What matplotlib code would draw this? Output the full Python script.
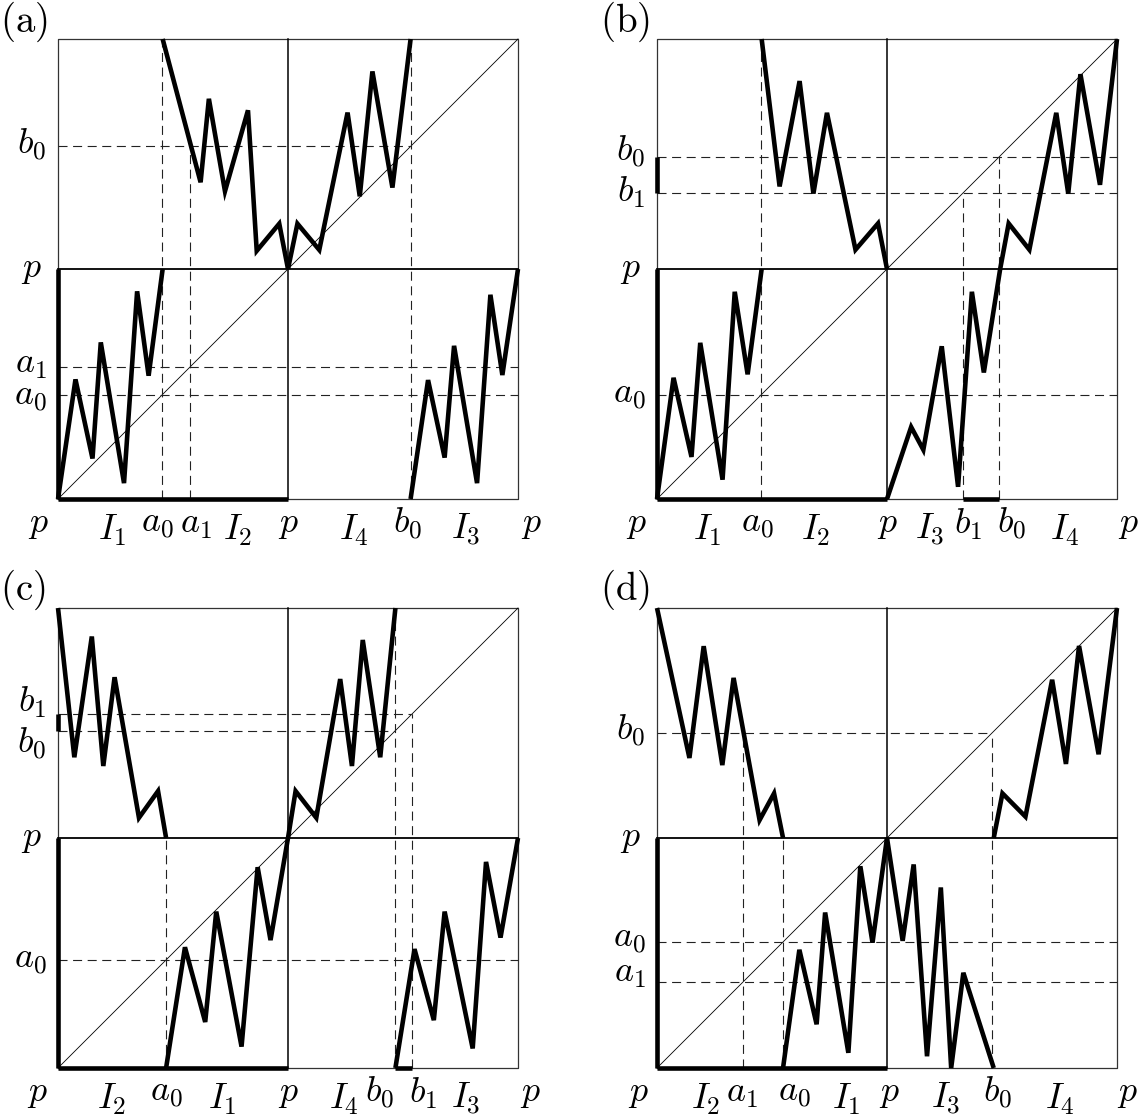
import matplotlib
matplotlib.use("Agg")
import matplotlib.pyplot as plt

plt.rcParams["mathtext.fontset"] = "cm"
plt.rcParams["lines.scale_dashes"] = False

# ---------------- data (unit square halves: p=0, p=1, p=2) ----------------
# panel (a)
A_LL_X = [0, 0.076, 0.150, 0.186, 0.287, 0.344, 0.394, 0.455]
A_LL_Y = [0, 0.52, 0.176, 0.681, 0.069, 0.903, 0.536, 1.0]
A_UL_X = [0.455, 0.62, 0.656, 0.726, 0.826, 0.864, 0.962, 1.0]
A_UL_Y = [2.0, 1.377, 1.74, 1.338, 1.69, 1.079, 1.197, 1.0]
A_UR_X = [1.0, 1.041, 1.136, 1.259, 1.312, 1.367, 1.454, 1.533]
A_UR_Y = [1.0, 1.197, 1.083, 1.68, 1.316, 1.859, 1.354, 2.0]
A_LR_X = [1.533, 1.609, 1.681, 1.722, 1.822, 1.880, 1.932, 2.0]
A_LR_Y = [0, 0.517, 0.18, 0.666, 0.069, 0.888, 0.539, 1.0]
A_A0, A_A1, A_B0 = 0.45, 0.575, 1.533

# panel (b)
B_LL_X = [0, 0.072, 0.15, 0.188, 0.285, 0.338, 0.394, 0.455]
B_LL_Y = [0, 0.527, 0.183, 0.679, 0.084, 0.901, 0.542, 1.0]
B_UL_X = [0.455, 0.533, 0.62, 0.68, 0.739, 0.863, 0.961, 1.0]
B_UL_Y = [2.0, 1.359, 1.817, 1.328, 1.679, 1.084, 1.198, 1.0]
B_R_X = [1.0, 1.105, 1.158, 1.238, 1.309, 1.369, 1.421, 1.492, 1.529, 1.619, 1.736, 1.788, 1.841, 1.926, 2.0]
B_R_Y = [0, 0.313, 0.214, 0.664, 0.053, 0.901, 0.55, 1.0, 1.198, 1.084, 1.679, 1.328, 1.847, 1.366, 2.0]
B_A0, B_B0, B_B1 = 0.452, 1.487, 1.33

# panel (c)
C_UL_X = [0, 0.071, 0.147, 0.197, 0.246, 0.352, 0.435, 0.47]
C_UL_Y = [2.0, 1.351, 1.876, 1.313, 1.699, 1.088, 1.204, 1.0]
C_LL_X = [0.47, 0.552, 0.64, 0.688, 0.798, 0.868, 0.924, 1.0]
C_LL_Y = [0, 0.525, 0.2, 0.68, 0.093, 0.873, 0.556, 1.0]
C_UR_X = [1.0, 1.033, 1.123, 1.227, 1.278, 1.325, 1.401, 1.467]
C_UR_Y = [1.0, 1.204, 1.088, 1.691, 1.313, 1.861, 1.351, 2.0]
C_LR_X = [1.467, 1.55, 1.634, 1.681, 1.803, 1.861, 1.924, 2.0]
C_LR_Y = [0, 0.517, 0.208, 0.68, 0.085, 0.896, 0.567, 1.0]
C_A0, C_B0, C_B1 = 0.47, 1.467, 1.54

# panel (d)
D_UL_X = [0, 0.141, 0.203, 0.284, 0.333, 0.446, 0.509, 0.548]
D_UL_Y = [2.0, 1.348, 1.834, 1.317, 1.696, 1.078, 1.194, 1.0]
D_LL_X = [0.548, 0.619, 0.694, 0.731, 0.832, 0.884, 0.937, 1.0]
D_LL_Y = [0, 0.514, 0.19, 0.676, 0.066, 0.877, 0.545, 1.0]
D_LR_X = [1.0, 1.068, 1.116, 1.174, 1.234, 1.279, 1.332, 1.464]
D_LR_Y = [1.0, 0.553, 0.885, 0.051, 0.785, 0.0, 0.414, 0.0]
D_UR_X = [1.464, 1.502, 1.602, 1.718, 1.778, 1.835, 1.92, 2.0]
D_UR_Y = [1.0, 1.194, 1.093, 1.688, 1.322, 1.835, 1.364, 2.0]
D_A0, D_A1, D_B0 = 0.547, 0.373, 1.458

# labels
A_BOT_TXT = ["$p$", "$I_1$", "$a_0$", "$a_1$", "$I_2$", "$p$", "$I_4$", "$b_0$", "$I_3$", "$p$"]
A_BOT_X = [-0.087, 0.237, 0.434, 0.60, 0.78, 1.0, 1.285, 1.522, 1.774, 2.058]
A_LEFT_TXT = ["$b_0$", "$p$", "$a_1$", "$a_0$"]
A_LEFT_Y = [1.538, 1.0, 0.589, 0.444]

B_BOT_TXT = ["$p$", "$I_1$", "$a_0$", "$I_2$", "$p$", "$I_3$", "$b_1$", "$b_0$", "$I_4$", "$p$"]
B_BOT_X = [-0.09, 0.218, 0.435, 0.69, 1.0, 1.186, 1.351, 1.543, 1.772, 2.05]
B_LEFT_TXT = ["$b_0$", "$b_1$", "$p$", "$a_0$"]
B_LEFT_Y = [1.51, 1.335, 1.0, 0.45]

C_BOT_TXT = ["$p$", "$I_2$", "$a_0$", "$I_1$", "$p$", "$I_4$", "$b_0$", "$b_1$", "$I_3$", "$p$"]
C_BOT_X = [-0.09, 0.233, 0.47, 0.714, 1.0, 1.243, 1.40, 1.587, 1.771, 2.055]
C_LEFT_TXT = ["$b_1$", "$b_0$", "$p$", "$a_0$"]
C_LEFT_Y = [1.59, 1.41, 1.0, 0.471]

D_BOT_TXT = ["$p$", "$I_2$", "$a_1$", "$a_0$", "$I_1$", "$p$", "$I_3$", "$b_0$", "$I_4$", "$p$"]
D_BOT_X = [-0.08, 0.213, 0.371, 0.596, 0.821, 1.01, 1.257, 1.482, 1.752, 2.045]
D_LEFT_TXT = ["$b_0$", "$p$", "$a_0$", "$a_1$"]
D_LEFT_Y = [1.464, 1.0, 0.561, 0.414]

# ---------------- drawing ----------------
W, H = 1142, 1117
fig = plt.figure(figsize=(W / 100, H / 100), dpi=100)
FS = 26
DASH = (0, (6.5, 4.0))


def add_ax(left, top):
    ax = fig.add_axes([left / W, 1 - (top + 460) / H, 460 / W, 460 / H])
    ax.set_xlim(0, 2)
    ax.set_ylim(0, 2)
    ax.axis("off")
    # frame, cross and diagonal
    ax.plot([0, 2, 2, 0, 0], [0, 0, 2, 2, 0], color="#333333", lw=0.9, clip_on=False)
    ax.plot([1, 1], [0, 2], color="k", lw=1.1, clip_on=False)
    ax.plot([0, 2], [1, 1], color="k", lw=1.3, clip_on=False)
    ax.plot([0, 2], [0, 2], color="k", lw=0.6, clip_on=False)
    return ax


def thick(ax, xs, ys):
    ax.plot(xs, ys, color="k", lw=3.3, solid_joinstyle="miter",
            solid_capstyle="butt", clip_on=False, zorder=5)


def dashed(ax, xs, ys):
    ax.plot(xs, ys, color="#222222", lw=0.8, linestyle=DASH, clip_on=False, zorder=3)


def labels(ax, bot_txt, bot_x, left_txt, left_y):
    for t, x in zip(bot_txt, bot_x):
        y = -0.135 if t.startswith("$I") else -0.11
        ax.text(x, y, t, fontsize=FS, ha="center", va="center")
    for t, y in zip(left_txt, left_y):
        xx = -0.07 if t == "$p$" else -0.05
        ax.text(xx, y, t, fontsize=FS, ha="right", va="center")


# (a)
ax = add_ax(58, 39)
dashed(ax, [0, A_B0], [A_B0, A_B0])
dashed(ax, [0, 2], [A_A1, A_A1])
dashed(ax, [0, 2], [A_A0, A_A0])
dashed(ax, [A_A0, A_A0], [0, 2])
dashed(ax, [A_A1, A_A1], [0, A_B0])
dashed(ax, [A_B0, A_B0], [0, 2])
thick(ax, [0, 0], [0, 1])
thick(ax, [0, 1], [0, 0])
thick(ax, A_LL_X, A_LL_Y)
thick(ax, A_UL_X, A_UL_Y)
thick(ax, A_UR_X, A_UR_Y)
thick(ax, A_LR_X, A_LR_Y)
labels(ax, A_BOT_TXT, A_BOT_X, A_LEFT_TXT, A_LEFT_Y)

# (b)
ax = add_ax(657, 39)
dashed(ax, [0, 2], [B_B0, B_B0])
dashed(ax, [0, 2], [B_B1, B_B1])
dashed(ax, [0, 2], [B_A0, B_A0])
dashed(ax, [B_A0, B_A0], [0, 2])
dashed(ax, [B_B1, B_B1], [0, B_B1])
dashed(ax, [B_B0, B_B0], [0, B_B0])
thick(ax, [0, 0], [0, 1])
thick(ax, [0, 1], [0, 0])
thick(ax, [B_B1, B_B0], [0, 0])
thick(ax, [0, 0], [B_B1, B_B0])
thick(ax, B_LL_X, B_LL_Y)
thick(ax, B_UL_X, B_UL_Y)
thick(ax, B_R_X, B_R_Y)
labels(ax, B_BOT_TXT, B_BOT_X, B_LEFT_TXT, B_LEFT_Y)

# (c)
ax = add_ax(58, 608)
dashed(ax, [0, C_B1], [C_B1, C_B1])
dashed(ax, [0, C_B0], [C_B0, C_B0])
dashed(ax, [0, 2], [C_A0, C_A0])
dashed(ax, [C_A0, C_A0], [0, 1])
dashed(ax, [C_B0, C_B0], [0, 2])
dashed(ax, [C_B1, C_B1], [0, C_B1])
thick(ax, [0, 0], [0, 1])
thick(ax, [0, 1], [0, 0])
thick(ax, [C_B0, C_B1], [0, 0])
thick(ax, [0, 0], [C_B0, C_B1])
thick(ax, C_UL_X, C_UL_Y)
thick(ax, C_LL_X, C_LL_Y)
thick(ax, C_UR_X, C_UR_Y)
thick(ax, C_LR_X, C_LR_Y)
labels(ax, C_BOT_TXT, C_BOT_X, C_LEFT_TXT, C_LEFT_Y)

# (d)
ax = add_ax(657, 608)
dashed(ax, [0, D_B0], [D_B0, D_B0])
dashed(ax, [0, 2], [D_A0, D_A0])
dashed(ax, [0, 2], [D_A1, D_A1])
dashed(ax, [D_A1, D_A1], [0, D_B0])
dashed(ax, [D_A0, D_A0], [0, 1])
dashed(ax, [D_B0, D_B0], [0, D_B0])
thick(ax, [0, 0], [0, 1])
thick(ax, [0, 1], [0, 0])
thick(ax, D_UL_X, D_UL_Y)
thick(ax, D_LL_X, D_LL_Y)
thick(ax, D_LR_X, D_LR_Y)
thick(ax, D_UR_X, D_UR_Y)
labels(ax, D_BOT_TXT, D_BOT_X, D_LEFT_TXT, D_LEFT_Y)

# panel tags
for tag, px, py in [("(a)", 0, 0), ("(b)", 600, 0), ("(c)", 0, 568), ("(d)", 600, 568)]:
    fig.text(px / W, 1 - py / H, r"$\mathrm{" + tag + "}$", fontsize=28,
             ha="left", va="top")

fig.savefig("out.png", dpi=100)
